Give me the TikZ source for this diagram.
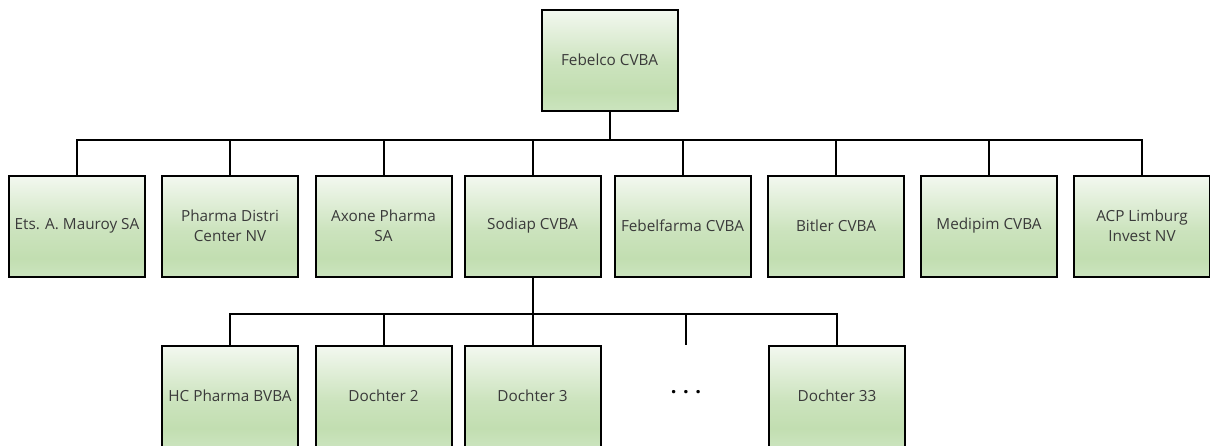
\documentclass[tikz,border=0pt]{standalone}
\usepackage{fontspec}
\setmainfont{Open Sans}
\usetikzlibrary{shadings}
\definecolor{gtop}{HTML}{F3F8F0}
\definecolor{gmid}{HTML}{C2DEB1}
\definecolor{gbot}{HTML}{CBE4BE}
\definecolor{txt}{HTML}{3A3A3A}
\pgfdeclareverticalshading{boxshade}{100bp}{color(0bp)=(gbot); color(25bp)=(gbot); color(34bp)=(gmid); color(48bp)=(gmid!80!gtop); color(75bp)=(gtop); color(100bp)=(gtop)}
\tikzset{
  orgbox/.style={draw=black, line width=2pt, shading=boxshade, minimum width=136pt, minimum height=101pt, inner sep=2pt, align=center, text=txt, font=\fontsize{15.3}{20}\selectfont},
  link/.style={draw=black, line width=2pt},
}
\begin{document}
\begin{tikzpicture}[x=1pt, y=-1pt]
\useasboundingbox (0,0) rectangle (1210,445);
\node[orgbox] (top) at (609.5,60) {Febelco CVBA};
\node[orgbox] (c1) at (77,226) {Ets. A. Mauroy SA};
\node[orgbox] (c2) at (230,226) {Pharma Distri\\Center NV};
\node[orgbox] (c3) at (383.5,226) {Axone Pharma\\SA};
\node[orgbox] (c4) at (532.5,226) {Sodiap CVBA};
\node[orgbox] (c5) at (682.5,226) {Febelfarma CVBA};
\node[orgbox] (c6) at (836,226) {Bitler CVBA};
\node[orgbox] (c7) at (989,226) {Medipim CVBA};
\node[orgbox] (c8) at (1142,226) {ACP Limburg\\Invest NV};
\node[orgbox] (d1) at (230,396) {HC Pharma BVBA};
\node[orgbox] (d2) at (383.5,396) {Dochter 2};
\node[orgbox] (d3) at (532.5,396) {Dochter 3};
\node[orgbox] (d33) at (837,396) {Dochter 33};
\node[text=black, font=\fontsize{20}{20}\selectfont\bfseries] (dots) at (686,392) {.\hspace{6.5pt}.\hspace{6.5pt}.};
\coordinate (dtick) at (686,345);
\coordinate (bus1) at (0,140);
\coordinate (bus2) at (0,314);
\foreach \c in {c1,c2,c3,c4,c5,c6,c7,c8}
  \draw[link] (top.south) |- (\c.north |- bus1) -- (\c.north);
\foreach \c in {d1,d2,d3,d33,dtick}
  \draw[link] (c4.south) |- (\c.north |- bus2) -- (\c.north);
\end{tikzpicture}
\end{document}
